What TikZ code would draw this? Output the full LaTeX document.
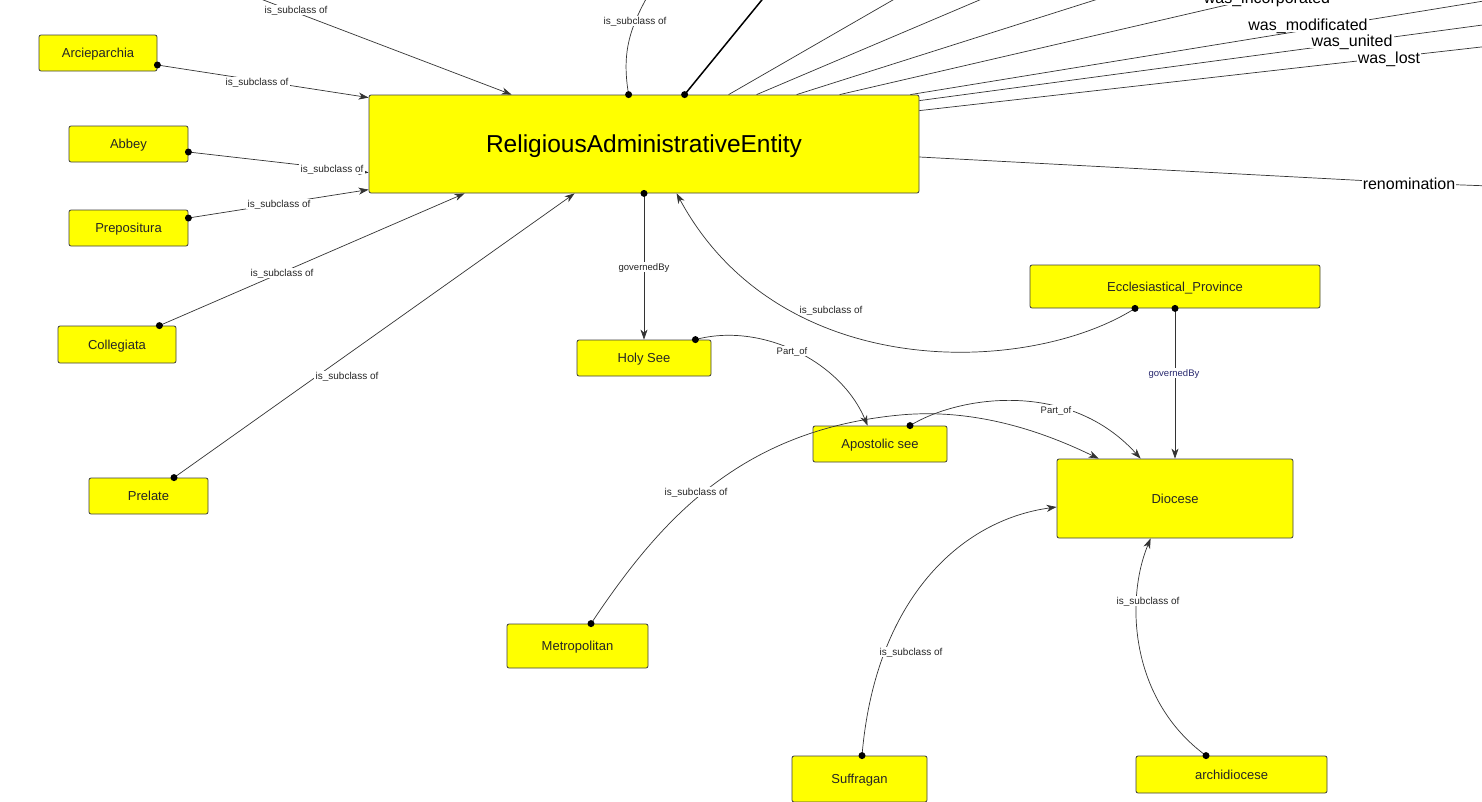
\documentclass[tikz,border=0pt]{standalone}
\usepackage{fontspec}
\setmainfont{Liberation Sans}
\usetikzlibrary{arrows.meta,calc}
\definecolor{boxyellow}{RGB}{255,255,0}
\definecolor{navylbl}{RGB}{40,40,110}
\begin{document}
\begin{tikzpicture}[x=1pt,y=-1pt,
 box/.style={draw=black!75, fill=boxyellow, rounded corners=2pt, line width=0.8pt, inner sep=0pt, font=\fontsize{13}{15}\selectfont, text=black!85, text height=9.4pt, text depth=0pt},
 lbl/.style={fill=white, inner sep=1.2pt, font=\fontsize{10}{11}\selectfont, text=black!85, text height=7.2pt, text depth=0pt},
 biglbl/.style={fill=white, inner sep=1.2pt, font=\fontsize{16}{18}\selectfont, text=black, text height=11.6pt, text depth=0pt},
 edge/.style={draw=black!80, line width=0.7pt},
 arr/.style={edge, -{Stealth[length=10pt,width=7pt,inset=3pt]}},
 dotc/.style={fill=black}
 ]
\useasboundingbox (0,0) rectangle (1482,801);
\fill[white] (0,0) rectangle (1482,801);
\clip (0,0) rectangle (1482,801);

% nodes
\node[box, minimum width=550pt, minimum height=98pt, font=\fontsize{24.5}{28}\selectfont, text=black, text height=17.6pt] (rae) at (644,144) {ReligiousAdministrativeEntity};
\node[box, minimum width=118pt, minimum height=36pt] (arc) at (98,53) {Arcieparchia};
\node[box, minimum width=119pt, minimum height=36pt] (abbey) at (128.5,144) {Abbey};
\node[box, minimum width=119pt, minimum height=36pt] (prep) at (128.5,228) {Prepositura};
\node[box, minimum width=118pt, minimum height=37pt] (coll) at (117,344.5) {Collegiata};
\node[box, minimum width=119pt, minimum height=36pt] (prel) at (148.5,496) {Prelate};
\node[box, minimum width=134pt, minimum height=36pt] (holy) at (644,358) {Holy See};
\node[box, minimum width=290pt, minimum height=43pt] (eccl) at (1175,286.5) {Ecclesiastical\_Province};
\node[box, minimum width=134pt, minimum height=36pt] (apos) at (880,444) {Apostolic see};
\node[box, minimum width=236pt, minimum height=79pt] (dioc) at (1175,498.5) {Diocese};
\node[box, minimum width=141pt, minimum height=44pt] (metro) at (577.5,646) {Metropolitan};
\node[box, minimum width=135pt, minimum height=46pt] (suff) at (859.5,779) {Suffragan};
\node[box, minimum width=191pt, minimum height=37pt] (archi) at (1231.5,774.5) {archidiocese};

% free ends outside the picture
\coordinate (offA) at (245,-7);
\coordinate (offB) at (650,-8);
\coordinate (offC) at (770,-10);
\coordinate (offD) at (905,-7);
\coordinate (offE) at (996,-7);
\coordinate (offF) at (1117,-7);
\coordinate (offG) at (1300,-12);
\coordinate (offH) at (1490,0);
\coordinate (offI) at (1490,24);
\coordinate (offJ) at (1490,46);
\coordinate (offK) at (1490,186);
\coordinate (renoM) at (1409,183);

% start points
\coordinate (sArc) at ($(arc.east)+(0,12)$);
\coordinate (sAbb) at ($(abbey.east)+(0,8)$);
\coordinate (sPrep) at ($(prep.east)+(0,-10)$);
\coordinate (sColl) at ($(coll.north east)+(-17,0)$);
\coordinate (sPrel) at ($(prel.north)+(25.5,0)$);
\coordinate (sTop) at ($(rae.north west)+(260,0)$);
\coordinate (sThick) at ($(rae.north west)+(316,0)$);
\coordinate (sGov) at (rae.south);
\coordinate (sEccl) at ($(eccl.south)+(-40,0)$);
\coordinate (sEgov) at (eccl.south);
\coordinate (sHoly) at ($(holy.north east)+(-16,0)$);
\coordinate (sApos) at ($(apos.north)+(30,0)$);
\coordinate (sMetro) at ($(metro.north)+(13.5,0)$);
\coordinate (sSuff) at ($(suff.north)+(2.5,0)$);
\coordinate (sArchi) at ($(archi.north)+(-25.5,0)$);

% edges into RAE from the left
\draw[arr] (offA) -- ($(rae.north west)+(143,0)$);
\draw[arr] (sArc) -- ($(rae.north west)+(0,3)$);
\draw[arr] (sAbb) -- ($(rae.north west)+(0,78)$);
\draw[arr] (sPrep) -- ($(rae.north west)+(0,95)$);
\draw[arr] (sColl) -- ($(rae.south west)+(96,0)$);
\draw[arr] (sPrel) -- ($(rae.south west)+(206,0)$);

% edges out of RAE to the top and right
\draw[edge] (sTop) .. controls (622,55) and (628,30) .. (offB);
\draw[draw=black, line width=1.5pt] (sThick) -- (offC);
\draw[edge] ($(rae.north west)+(360,0)$) -- (offD);
\draw[edge] ($(rae.north west)+(388,0)$) -- (offE);
\draw[edge] ($(rae.north west)+(428,0)$) -- (offF);
\draw[edge] ($(rae.north west)+(471,0)$) -- (offG);
\draw[edge] ($(rae.north east)+(-9,0)$) -- (offH);
\draw[edge] ($(rae.north east)+(0,6)$) -- (offI);
\draw[edge] ($(rae.north east)+(0,16)$) -- (offJ);
\draw[edge] ($(rae.east)+(0,13)$) -- (renoM) -- (offK);

% middle edges
\draw[arr] (sGov) -- (holy.north);
\draw[arr] (sEccl) .. controls (1030,375) and (780,385) .. ($(rae.south west)+(308,0)$);
\draw[arr] (sHoly) .. controls (760,322) and (840,360) .. ($(apos.north west)+(55,0)$);
\draw[arr] (sApos) .. controls (960,395) and (1070,380) .. ($(dioc.north west)+(84,0)$);
\draw[arr] (sMetro) .. controls (660,520) and (740,430) .. (900,415) .. controls (980,407.5) and (1050,435) .. ($(dioc.north west)+(42,0)$);
\draw[arr] (sEgov) -- (dioc.north);
\draw[arr] (sSuff) .. controls (875,600) and (960,520) .. ($(dioc.west)+(0,8.5)$);
\draw[arr] (sArchi) .. controls (1130,700) and (1125,600) .. ($(dioc.south west)+(94,0)$);

% source dots
\foreach \p in {sArc,sAbb,sPrep,sColl,sPrel,sTop,sThick,sGov,sEccl,sEgov,sHoly,sApos,sMetro,sSuff,sArchi}
  \fill[dotc] (\p) circle (3.5pt);

% labels
\node[lbl] (l1) at (296,10) {is\_subclass of};
\node[lbl] (l2) at (257,82) {is\_subclass of};
\node[lbl] (l3) at (332,169) {is\_subclass of};
\node[lbl] (l4) at (279,204) {is\_subclass of};
\node[lbl] (l5) at (282,273) {is\_subclass of};
\node[lbl] (l6) at (347,376) {is\_subclass of};
\node[lbl] (l7) at (635,21) {is\_subclass of};
\node[lbl, font=\fontsize{9.5}{11}\selectfont] (l8) at (644,267) {governedBy};
\node[lbl] (l9) at (831,310) {is\_subclass of};
\node[lbl, font=\fontsize{9.5}{11}\selectfont] (l10) at (792,351) {Part\_of};
\node[lbl, font=\fontsize{9.5}{11}\selectfont] (l11) at (1056,410) {Part\_of};
\node[lbl, font=\fontsize{9.5}{11}\selectfont, text=navylbl] (l12) at (1174,373) {governedBy};
\node[lbl] (l13) at (696,492) {is\_subclass of};
\node[lbl] (l14) at (911,652) {is\_subclass of};
\node[lbl] (l15) at (1148,601) {is\_subclass of};
\node[biglbl] (w1) at (1267,-2) {was\_incorporated};
\node[biglbl] (w2) at (1308,25) {was\_modificated};
\node[biglbl] (w3) at (1352,41) {was\_united};
\node[biglbl] (w4) at (1389,58) {was\_lost};
\node[biglbl] (w5) at (1409,184) {renomination};
\end{tikzpicture}
\end{document}
